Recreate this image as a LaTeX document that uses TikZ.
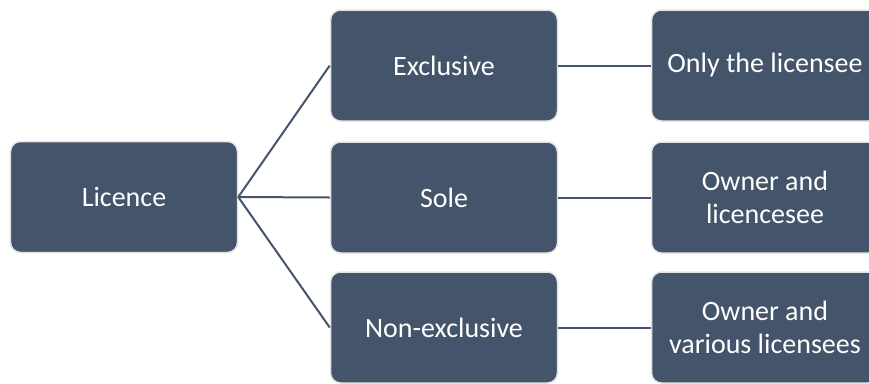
\documentclass[tikz,border=0pt]{standalone}
\usepackage{fontspec}
\setmainfont{Carlito}
\definecolor{boxfill}{HTML}{44546A}
\definecolor{boxedge}{HTML}{E4E4E4}
\begin{document}
\begin{tikzpicture}[x=1bp,y=-1bp,
  card/.style={draw=boxedge, line width=1.5bp, fill=boxfill, rounded corners=10bp,
    minimum width=227bp, minimum height=111bp, text=white, align=center,
    inner sep=0pt, font=\fontsize{28bp}{33bp}\selectfont},
  link/.style={draw=boxfill, line width=2bp}]
\useasboundingbox (0,0) rectangle (869,383);
\node[card] (lic) at (124,197) {Licence};
\node[card] (exc) at (444,65.5) {Exclusive};
\node[card] (sole) at (444,197.5) {Sole};
\node[card] (non) at (444,327.5) {Non-exclusive};
\node[card] (only) at (765,65.5) {Only the licensee};
\node[card] (own) at (765,197.5) {Owner and\\licencesee};
\node[card] (var) at (765,327.5) {Owner and\\various licensees};
\draw[link] (lic.east) -- (exc.west);
\draw[link] (lic.east) -- (sole.west);
\draw[link] (lic.east) -- (non.west);
\draw[link] (exc.east) -- (only.west);
\draw[link] (sole.east) -- (own.west);
\draw[link] (non.east) -- (var.west);
\end{tikzpicture}
\end{document}
